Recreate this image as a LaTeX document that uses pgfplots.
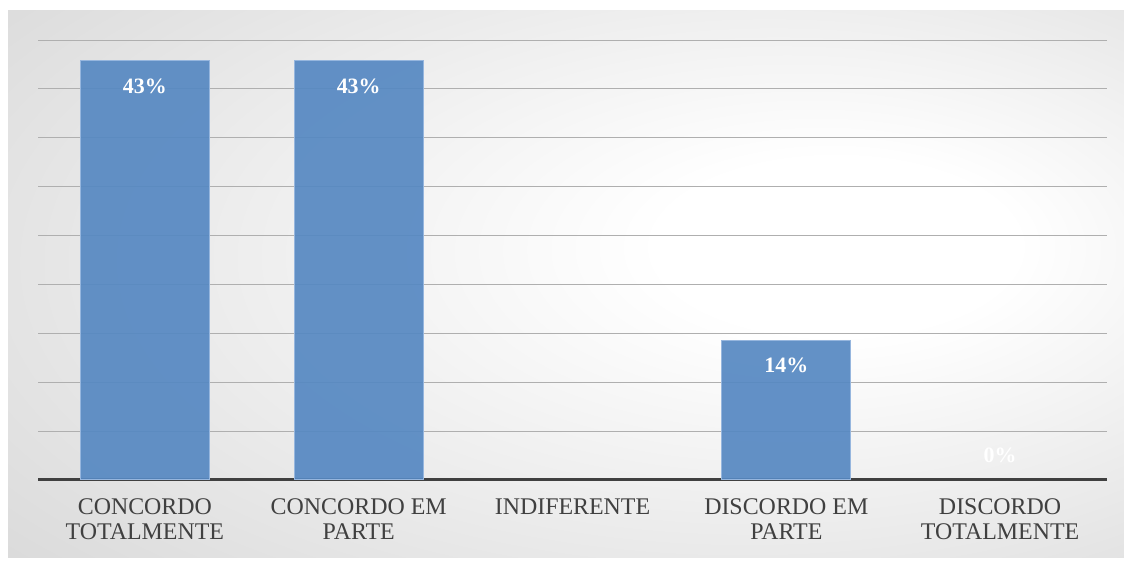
\documentclass[border=0pt]{standalone}
\usepackage{fontspec}
\setmainfont{Liberation Serif}
\usepackage{pgfplots}
\pgfplotsset{compat=1.18}
\definecolor{barblue}{RGB}{86,136,194}
\definecolor{baredge}{RGB}{150,182,222}
\definecolor{gridc}{RGB}{175,175,175}
\definecolor{axc}{RGB}{64,64,64}
\definecolor{txt}{RGB}{64,64,64}
\pgfdeclareradialshading{bgshade}{\pgfpoint{14bp}{4bp}}{color(0bp)=(white); color(8bp)=(white); color(62bp)=(black!24)}
\begin{document}
\begin{tikzpicture}[x=1bp,y=1bp]
\path[use as bounding box, fill=white] (0,0) rectangle (1124,561);
\shade[shading=bgshade] (8,3) rectangle (1124,550);
\begin{axis}[
  at={(38bp,81bp)}, anchor=south west,
  scale only axis, width=1069bp, height=440bp,
  xmin=-0.5, xmax=4.5, ymin=0, ymax=45,
  ytick={5,10,...,45}, yticklabels={},
  ymajorgrids, grid style={gridc, line width=0.9bp},
  axis x line*=bottom, axis y line*=left,
  x axis line style={axc, line width=3bp, -},
  y axis line style={draw=none},
  major tick length=0pt,
  xtick={0,...,4},
  xticklabels={CONCORDO\\TOTALMENTE, CONCORDO EM\\PARTE, INDIFERENTE, DISCORDO EM\\PARTE, DISCORDO\\TOTALMENTE},
  xticklabel style={align=center, font=\fontsize{24}{25}\selectfont, text=txt, yshift=-15bp},
]
\addplot[ybar, bar width=129bp, fill=barblue, fill opacity=0.92, draw=baredge, line width=1bp,
  point meta=explicit symbolic,
  nodes near coords,
  nodes near coords style={anchor=center, yshift=-25bp, text=white, text opacity=1, font=\bfseries\fontsize{22}{24}\selectfont}]
  coordinates {(0,42.86) [43\%] (1,42.86) [43\%] (3,14.29) [14\%]};
\addplot[draw=none, mark=none,
  nodes near coords={0\%},
  nodes near coords style={anchor=center, yshift=25bp, text=white, font=\bfseries\fontsize{22}{24}\selectfont}]
  coordinates {(4,0)};
\end{axis}
\end{tikzpicture}
\end{document}
